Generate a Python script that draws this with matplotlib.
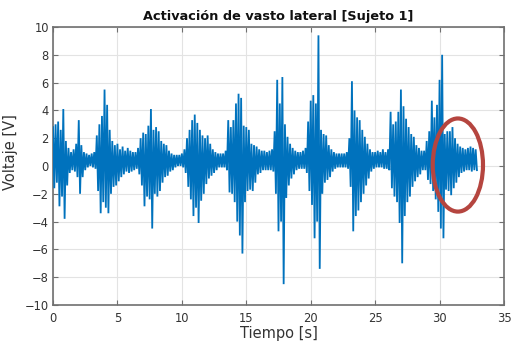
import numpy as np
import matplotlib
matplotlib.use("Agg")
import matplotlib.pyplot as plt
from matplotlib.patches import Ellipse

# ---- data (0.2 s bins: max / min of the EMG trace) ----
bin_width = 0.2
bin_start = np.round(np.arange(0, 165) * bin_width, 2)

upper = [
    2.8, 3.0, 3.2, 2.6, 4.1, 1.8, 1.3, 1.0, 1.2, 1.6,
    3.3, 1.5, 1.0, 0.9, 0.8, 0.9, 1.0, 2.2, 3.0, 3.6,
    5.5, 4.4, 2.6, 1.8, 1.5, 1.6, 1.2, 1.4, 1.1,
    1.3, 1.1, 1.0, 1.0, 1.3, 2.0, 2.4, 2.3, 2.9, 4.1,
    2.6, 2.8, 2.5, 1.8, 1.6, 1.5, 1.1, 0.9, 0.8, 0.8,
    0.8, 0.9, 1.2, 2.0, 2.6, 3.3, 3.7, 3.1, 2.6, 2.2,
    2.0, 2.2, 1.6, 1.2, 1.0, 0.9, 0.9, 0.9, 1.1, 3.3,
    2.8, 3.3, 4.5, 5.2, 4.9, 2.9, 2.8, 2.6, 1.6, 1.5,
    1.4, 1.2, 1.1, 1.1, 1.0, 1.1, 1.2, 2.5,
    6.2, 4.5, 6.4, 3.0, 2.1, 1.6, 1.3, 1.1, 1.0, 1.0,
    1.1, 1.3, 3.2, 4.7, 5.1, 4.5, 9.4, 2.6, 2.3, 2.2,
    1.5, 1.2, 1.0, 0.9, 0.9, 0.9, 0.9, 1.0, 2.0,
    6.1, 4.0, 3.5, 3.3, 2.6, 2.1, 1.6, 1.2, 1.0, 1.0,
    1.1, 1.0, 1.2, 1.0, 1.2, 3.9, 3.0, 3.2, 3.9, 5.5,
    4.3, 3.4, 2.8, 2.3, 2.1, 1.5, 1.3, 1.1, 1.1,
    1.8, 2.5, 4.7, 3.5, 4.4, 6.2, 8.0, 2.3, 2.5, 2.5,
    2.8, 2.0, 1.6, 1.4, 1.3, 1.2, 1.3, 1.4, 1.3, 1.2,
]
lower = [
    -1.6, -1.2, -2.9, -2.2, -3.8, -1.4, -0.5, -0.3, -0.4, -0.8,
    -2.0, -0.8, -0.3, -0.1, 0.0, -0.1, -0.2, -1.8, -3.4, -2.6,
    -3.0, -3.4, -2.0, -1.5, -1.4, -1.1, -0.8, -0.6, -0.4,
    -0.5, -0.4, -0.3, -0.2, -0.6, -1.4, -2.9, -2.2, -2.4, -4.5,
    -2.0, -2.2, -1.8, -1.2, -0.8, -0.7, -0.4, -0.3, -0.1, 0.0,
    0.0, -0.1, -0.5, -1.5, -2.4, -3.6, -3.0, -4.1, -2.5, -2.0,
    -1.3, -0.9, -0.7, -0.5, -0.3, -0.1, -0.1, -0.1, -0.3, -1.9,
    -2.0, -2.6, -4.0, -5.0, -6.3, -2.6, -1.8, -1.7, -1.8, -1.2,
    -0.6, -0.5, -0.3, -0.3, -0.3, -0.3, -0.4, -2.0,
    -4.7, -4.0, -8.5, -2.3, -1.4, -0.9, -0.6, -0.3, -0.2, -0.2,
    -0.2, -0.5, -1.8, -2.8, -5.2, -4.0, -7.4, -2.0, -1.2, -1.0,
    -0.8, -0.4, -0.2, -0.1, -0.1, -0.1, -0.1, -0.2, -1.5,
    -4.7, -3.6, -3.2, -2.6, -2.0, -1.4, -0.9, -0.4, -0.2, -0.1,
    -0.1, -0.1, -0.2, -0.2, -0.3, -1.6, -2.2, -2.6, -4.1, -7.0,
    -3.6, -2.6, -2.2, -1.5, -1.1, -0.8, -0.6, -0.3, -0.3,
    -1.0, -1.3, -1.8, -2.4, -3.3, -4.5, -5.2, -1.7, -1.8, -2.1,
    -1.6, -1.2, -0.8, -0.5, -0.4, -0.3, -0.3, -0.4, -0.3, -0.3,
]

x_ticks = [0, 5, 10, 15, 20, 25, 30, 35]
y_ticks = [-10, -8, -6, -4, -2, 0, 2, 4, 6, 8, 10]

title_text = "Activación de vasto lateral [Sujeto 1]"
x_label = "Tiempo [s]"
y_label = "Voltaje [V]"

# highlight ellipse (data coordinates): centre time, centre volts, width s, height V
highlight = dict(t=31.42, v=0.07, w=3.9, h=6.7)

# ---- build the trace: alternate each bin's max and min ----
t_arr = np.asarray(bin_start)
x_trace = np.empty(2 * len(t_arr))
y_trace = np.empty(2 * len(t_arr))
x_trace[0::2] = t_arr
x_trace[1::2] = t_arr + bin_width / 2
y_trace[0::2] = upper
y_trace[1::2] = lower

fig = plt.figure(figsize=(5.11, 3.45), dpi=100)
ax = fig.add_axes([53 / 511, 40 / 345, 451 / 511, 278 / 345])

ax.plot(x_trace, y_trace, color="#0072BD", lw=1.3, zorder=3,
        solid_joinstyle="miter")

ax.set_xlim(0, 35)
ax.set_ylim(-10, 10)
ax.set_xticks(x_ticks)
ax.set_yticks(y_ticks)
ax.grid(True, color="#E3E3E3", lw=0.8, zorder=0)
ax.set_axisbelow(True)

spine_c = "#707070"
for s in ax.spines.values():
    s.set_color(spine_c)
    s.set_linewidth(1.2)
ax.tick_params(direction="in", length=3.5, width=0.8, color=spine_c,
               top=True, right=True, labelsize=8.3, labelcolor="#333333",
               pad=5)
ax.tick_params(axis="y", pad=3)
for lab in ax.get_xticklabels() + ax.get_yticklabels():
    lab.set_family("DejaVu Sans")

ax.set_title(title_text, fontsize=9.3, fontweight="bold", family="DejaVu Sans",
             color="#111111", pad=5)
ax.set_xlabel(x_label, fontsize=10.5, family="DejaVu Sans", color="#333333",
              labelpad=1)
ax.set_ylabel(y_label, fontsize=10.5, family="DejaVu Sans", color="#333333")
ax.yaxis.set_label_coords(-0.078, 0.55)

ell = Ellipse((highlight["t"], highlight["v"]), highlight["w"], highlight["h"],
              fill=False, edgecolor="#B5453F", lw=3.0, zorder=5, clip_on=False)
ax.add_patch(ell)

fig.savefig("out.png", dpi=100)
